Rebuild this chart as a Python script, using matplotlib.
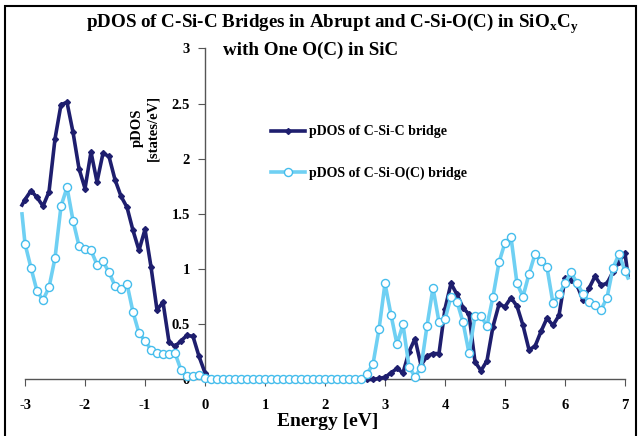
import numpy as np
import matplotlib
matplotlib.use("Agg")
from matplotlib import pyplot as plt
from matplotlib.patches import Rectangle

plt.rcParams['font.family'] = ['Liberation Serif', 'DejaVu Serif']
plt.rcParams['font.weight'] = 'bold'
plt.rcParams['axes.unicode_minus'] = False
plt.rcParams['mathtext.fontset'] = 'custom'
plt.rcParams['mathtext.rm'] = 'Liberation Serif:bold'

# energy grid, 0.1 eV, with the two end points that run just past the axis
energy = np.concatenate([[-3.05], np.round(np.arange(-3.0, 7.05, 0.1), 2), [7.05]])

csic = ([1.58,
         1.63, 1.71, 1.65, 1.57, 1.70, 2.18, 2.49, 2.51, 2.24, 1.91,
         1.73, 2.06, 1.79, 2.05, 2.02, 1.81, 1.66, 1.56, 1.35, 1.17,
         1.36, 1.02, 0.63, 0.70, 0.34, 0.30, 0.35, 0.40, 0.39, 0.21, 0.06]
        + [0.0] * 26
        + [0.0, 0.0, 0.01, 0.02, 0.06, 0.10, 0.06, 0.25, 0.37, 0.13,
           0.21, 0.235, 0.235, 0.64, 0.87, 0.77, 0.65, 0.59, 0.16, 0.08,
           0.17, 0.48, 0.68, 0.66, 0.74, 0.665, 0.49, 0.27, 0.30, 0.435,
           0.555, 0.49, 0.58, 0.915, 0.90, 0.855, 0.72, 0.825, 0.935, 0.855,
           0.87, 0.975, 1.065, 1.145, 0.94])

csio = ([1.50,
         1.23, 1.01, 0.80, 0.72, 0.835, 1.10, 1.57, 1.74, 1.44, 1.21,
         1.18, 1.17, 1.04, 1.07, 0.97, 0.85, 0.82, 0.865, 0.61, 0.42,
         0.35, 0.27, 0.24, 0.23, 0.23, 0.24, 0.086, 0.035, 0.03, 0.04, 0.01]
        + [0.0] * 25
        + [0.0, 0.05, 0.14, 0.455, 0.87, 0.585, 0.32, 0.50, 0.115, 0.025,
           0.105, 0.485, 0.83, 0.52, 0.545, 0.75, 0.705, 0.52, 0.24, 0.575,
           0.575, 0.485, 0.75, 1.06, 1.24, 1.29, 0.87, 0.75, 0.955, 1.135,
           1.075, 1.015, 0.69, 0.77, 0.87, 0.97, 0.875, 0.775, 0.705, 0.675,
           0.63, 0.74, 1.01, 1.135, 0.985, 0.92])

xticks = [-3, -2, -1, 0, 1, 2, 3, 4, 5, 6, 7]
yticks = [0, 0.5, 1, 1.5, 2, 2.5, 3]
ytick_labels = ["0", "0.5", "1", "1.5", "2", "2.5", "3"]

fig = plt.figure(figsize=(6.38, 4.36), dpi=100)
ax = fig.add_axes([0.0392, 0.1296, 0.9404, 0.7596])

ax.plot(energy, csic, color="#1e1e6e", lw=2.6, marker="D", ms=3,
        markevery=slice(1, -1), clip_on=False, zorder=3,
        label="pDOS of C-Si-C bridge")
ax.plot(energy, csio, color="#6fd0f3", lw=2.6, marker="o", ms=5.8,
        mfc="white", mec="#45bdec", mew=1.0,
        markevery=slice(1, -1), clip_on=False, zorder=4,
        label="pDOS of C-Si-O(C) bridge")

ax.set_xlim(-3, 7)
ax.set_ylim(0, 3)
ax.spines['left'].set_position(('data', 0))
ax.spines['top'].set_visible(False)
ax.spines['right'].set_visible(False)
for s in ['left', 'bottom']:
    ax.spines[s].set_color("#555555")
    ax.spines[s].set_linewidth(1.0)

ax.set_xticks(xticks)
ax.set_yticks(yticks)
ax.set_yticklabels(ytick_labels)
ax.tick_params(axis='x', direction='out', length=5, pad=9, labelsize=10.5,
               color="#555555")
ax.tick_params(axis='y', direction='out', length=5, pad=6, labelsize=10.5,
               color="#555555")

ax.text(-1.0, 2.28, "pDOS\n[states/eV]", rotation=90, ha="center",
        va="center", fontsize=10.5, linespacing=1.3)
ax.text(2.04, -0.376, "Energy [eV]", ha="center", va="center", fontsize=14)

fig.text(332 / 638, 1 - 24 / 436,
         r"pDOS of C-Si-C Bridges in Abrupt and C-Si-O(C) in SiO$_\mathrm{x}$C$_\mathrm{y}$",
         ha="center", va="center", fontsize=13.7)
fig.text(311 / 638, 1 - 50 / 436, "with One O(C) in SiC",
         ha="center", va="center", fontsize=13.7)

ax.legend(loc="upper left", bbox_to_anchor=(0.39, 0.805), frameon=False,
          fontsize=10, handlelength=2.4, labelspacing=2.0, handletextpad=0.3)

fig.patches.append(Rectangle((5 / 638, -0.02), 631 / 638, 1 - 6 / 436 + 0.02,
                             transform=fig.transFigure, fill=False,
                             edgecolor="black", lw=1.5))

fig.savefig("out.png", dpi=100)
